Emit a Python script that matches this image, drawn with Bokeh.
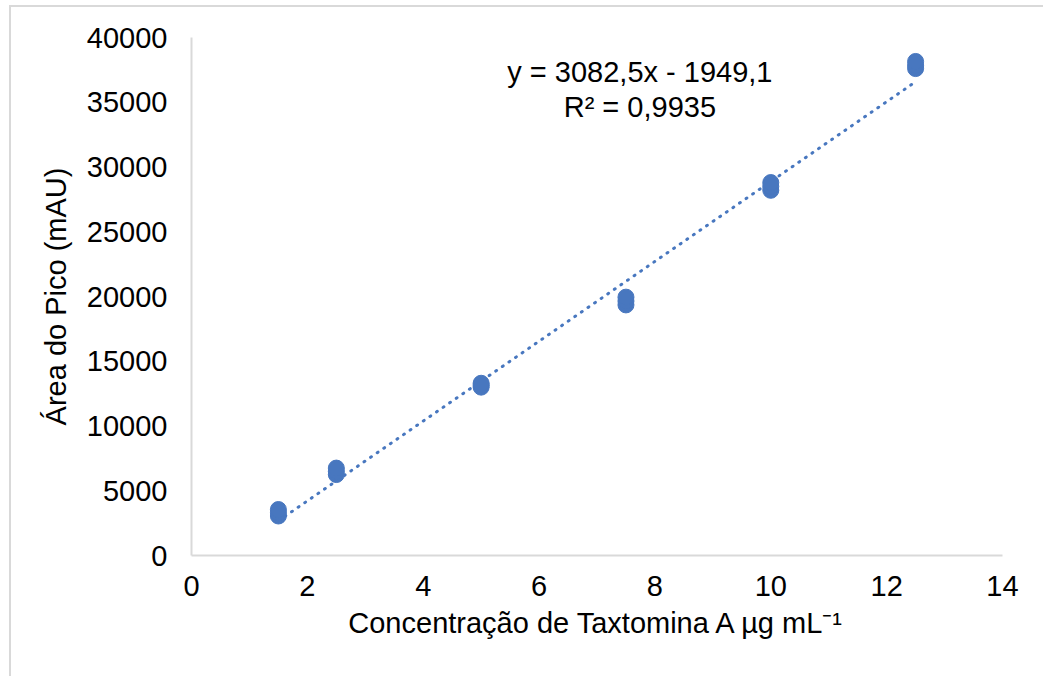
from bokeh.plotting import figure
from bokeh.models import Range1d, FixedTicker, Label
from bokeh.embed import file_html
from bokeh.resources import INLINE

# Calibration data: replicate injections per standard concentration
concentracao = [1.5, 1.5, 1.5, 2.5, 2.5, 2.5, 5, 5, 5,
                7.5, 7.5, 7.5, 10, 10, 10, 12.5, 12.5, 12.5]
area_pico = [3050, 3300, 3550, 6250, 6500, 6750, 13000, 13150, 13300,
             19350, 19650, 19950, 28200, 28500, 28800, 37600, 37850, 38150]

# Linear fit reported on the chart
inclinacao = 3082.5
intercepto = -1949.1
r2_texto = "R² = 0,9935"
eq_texto = "y = 3082,5x - 1949,1"

x_ticks = [0, 2, 4, 6, 8, 10, 12, 14]
y_ticks = [0, 5000, 10000, 15000, 20000, 25000, 30000, 35000, 40000]

azul = "#4877bf"
fonte = "Liberation Sans"
tam = "29px"

p = figure(width=1034, height=671, output_backend="svg", toolbar_location=None,
           x_range=Range1d(0, 14), y_range=Range1d(0, 40000),
           min_border_left=180, min_border_right=43,
           min_border_top=30, min_border_bottom=123)
p.styles = {"margin-left": "9px", "margin-top": "5px",
            "border-left": "2px solid #d9d9d9", "border-top": "2px solid #d9d9d9"}

p.outline_line_color = None
p.grid.visible = False
p.background_fill_color = "white"
p.border_fill_color = "white"

# Trendline across the calibrated range
x_fit = [min(concentracao), max(concentracao)]
y_fit = [inclinacao * x + intercepto for x in x_fit]
p.line(x_fit, y_fit, line_color=azul, line_width=3, line_dash="1 7", line_cap="round")

p.scatter(concentracao, area_pico, size=16, fill_color=azul, line_color=azul)

for ax in (p.xaxis[0], p.yaxis[0]):
    ax.axis_line_color = "#d9d9d9"
    ax.axis_line_width = 2
    ax.major_tick_line_color = None
    ax.minor_tick_line_color = None
    ax.major_tick_out = 0
    ax.major_label_text_font = fonte
    ax.major_label_text_font_size = tam
    ax.major_label_text_color = "black"
    ax.axis_label_text_font = fonte
    ax.axis_label_text_font_size = tam
    ax.axis_label_text_font_style = "normal"
    ax.axis_label_text_color = "black"

p.xaxis.ticker = FixedTicker(ticks=x_ticks)
p.yaxis.ticker = FixedTicker(ticks=y_ticks)
p.yaxis.major_label_standoff = 24
p.xaxis.major_label_standoff = 20
p.yaxis.axis_label_standoff = 12
p.xaxis.axis_label_standoff = 8
p.xaxis.axis_label = "Concentração de Taxtomina A µg mL⁻¹"
p.yaxis.axis_label = "Área do Pico (mAU)"

p.add_layout(Label(x=7.74, y=37300, text=eq_texto, text_align="center",
                   text_baseline="middle", text_font=fonte, text_font_size=tam,
                   text_color="black"))
p.add_layout(Label(x=7.74, y=34650, text=r2_texto, text_align="center",
                   text_baseline="middle", text_font=fonte, text_font_size=tam,
                   text_color="black"))

open("out.html", "w").write(file_html(p, INLINE))
